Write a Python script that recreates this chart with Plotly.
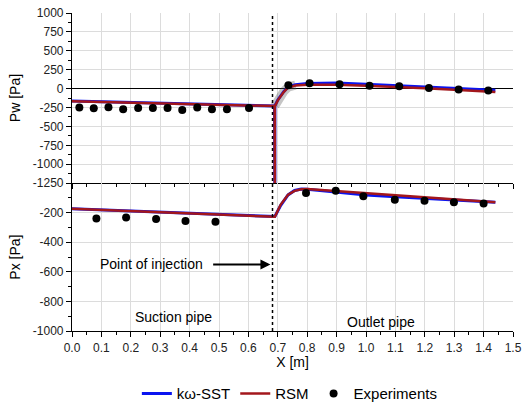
import plotly.graph_objects as go

# ---------- data ----------
# Wall pressure Pw (top panel)
pw_x = [0.0, 0.1, 0.2, 0.3, 0.4, 0.5, 0.6, 0.689, 0.69, 0.69, 0.70, 0.72, 0.735, 0.76, 0.8, 0.9, 1.0, 1.1, 1.2, 1.3, 1.44]
pw_sst = [-165, -174, -183, -192, -201, -210, -219, -229, -1450, -229, -150, -40, 22, 50, 66, 74, 58, 42, 22, 2, -20]
pw_rsm = [-168, -177, -186, -195, -204, -213, -222, -231, -1450, -231, -155, -45, 15, 40, 50, 50, 38, 24, 4, -16, -44]
pw_exp_x = [0.025, 0.074, 0.124, 0.174, 0.225, 0.275, 0.325, 0.375, 0.426, 0.476, 0.527, 0.602,
            0.736, 0.808, 0.91, 1.012, 1.113, 1.214, 1.315, 1.416]
pw_exp = [-250, -259, -246, -272, -255, -255, -255, -282, -250, -272, -272, -255,
          43, 70, 57, 39, 30, 8, -13, -26]
# grey spread of the simulations around the injection
spread_x = [0.69, 0.70, 0.72, 0.735, 0.76]
spread_y = [-229, -150, -40, 20, 45]

# Axial pressure Px (bottom panel)
px_x = [0.0, 0.1, 0.2, 0.3, 0.4, 0.5, 0.6, 0.68, 0.69, 0.71, 0.735, 0.757, 0.78, 0.8, 0.9, 1.0, 1.1, 1.2, 1.3, 1.44]
px_sst = [-173, -181, -189, -197, -206, -214, -222, -229, -226, -150, -80, -50, -40, -42, -62, -80, -92, -104, -116, -130]
px_rsm = [-174, -182, -190, -198, -207, -215, -223, -230, -227, -145, -78, -52, -42, -39, -53, -67, -82, -96, -110, -130]
px_exp_x = [0.083, 0.184, 0.286, 0.386, 0.488, 0.796, 0.897, 0.991, 1.098, 1.199, 1.299, 1.40]
px_exp = [-239, -232, -243, -256, -261, -66, -51, -89, -112, -119, -130, -137]

x_ticks = [round(0.1 * i, 1) for i in range(16)]
pw_ticks = [1000, 750, 500, 250, 0, -250, -500, -750, -1000, -1250]
px_ticks = [-200, -400, -600, -800, -1000]
injection_x = 0.682

SST_COLOR = "#0A14F0"
RSM_COLOR = "#A3171C"
FONT = "Liberation Sans, Arial, sans-serif"

fig = go.Figure()

# top panel
fig.add_trace(go.Scatter(x=spread_x, y=spread_y, mode="lines", line=dict(color="rgba(90,90,90,0.35)", width=9),
                         showlegend=False, hoverinfo="skip", xaxis="x", yaxis="y"))
fig.add_trace(go.Scatter(x=pw_x, y=pw_sst, mode="lines", line=dict(color=SST_COLOR, width=3),
                         name="kω-SST", xaxis="x", yaxis="y"))
fig.add_trace(go.Scatter(x=pw_x, y=pw_rsm, mode="lines", line=dict(color=RSM_COLOR, width=2.5),
                         name="RSM", xaxis="x", yaxis="y"))
fig.add_trace(go.Scatter(x=pw_exp_x, y=pw_exp, mode="markers", marker=dict(color="black", size=8),
                         name="Experiments", xaxis="x", yaxis="y"))
# bottom panel
fig.add_trace(go.Scatter(x=px_x, y=px_sst, mode="lines", line=dict(color=SST_COLOR, width=3),
                         showlegend=False, xaxis="x2", yaxis="y2"))
fig.add_trace(go.Scatter(x=px_x, y=px_rsm, mode="lines", line=dict(color=RSM_COLOR, width=2.5),
                         showlegend=False, xaxis="x2", yaxis="y2"))
fig.add_trace(go.Scatter(x=px_exp_x, y=px_exp, mode="markers", marker=dict(color="black", size=8),
                         showlegend=False, xaxis="x2", yaxis="y2"))

grid = "#DCDCDC"
tickfont = dict(family=FONT, size=12, color="#222")
common_x = dict(range=[0, 1.5], tickvals=x_ticks, showgrid=True, gridcolor=grid, gridwidth=1,
                showline=True, linecolor="black", linewidth=1.2, ticks="outside", ticklen=5,
                tickcolor="black", tickfont=tickfont, zeroline=False, automargin=False,
                minor=dict(dtick=0.05, tick0=0, ticks="outside", ticklen=3, tickcolor="black", showgrid=False))

TOP_DOM = [0.465, 1.0]
BOT_DOM = [0.0, 0.465]


def fmt(v):
    return str(v).replace("\u2212", "-")


fig.update_layout(
    width=529, height=406,
    margin=dict(l=72, r=16, t=13, b=75),
    paper_bgcolor="white", plot_bgcolor="white",
    font=dict(family=FONT, size=12, color="black"),
    xaxis=dict(common_x, anchor="y", showticklabels=False, domain=[0, 1]),
    xaxis2=dict(common_x, anchor="y2", domain=[0, 1], ticktext=[f"{v:.1f}" for v in x_ticks],
                title=dict(text="X [m]", font=dict(size=14, family=FONT), standoff=2)),
    xaxis3=dict(overlaying="x", matches="x", side="top", anchor="y", showticklabels=False,
                showgrid=False, ticks="inside", ticklen=5, tickcolor="black", tickvals=x_ticks,
                showline=True, linecolor="black", linewidth=1.2, zeroline=False, automargin=False,
                minor=dict(dtick=0.05, tick0=0, ticks="inside", ticklen=3, tickcolor="black")),
    yaxis=dict(domain=TOP_DOM, anchor="x", range=[-1250, 1000], tickvals=pw_ticks,
               ticktext=[fmt(v) for v in pw_ticks],
               showgrid=True, gridcolor=grid, showline=True, linecolor="black", linewidth=1.2,
               ticks="outside", ticklen=5, tickcolor="black", tickfont=tickfont, automargin=False,
               zeroline=True, zerolinecolor="black", zerolinewidth=1.2,
               minor=dict(dtick=125, tick0=0, ticks="outside", ticklen=3, tickcolor="black", showgrid=False),
               title=dict(text="Pw [Pa]", font=dict(size=14, family=FONT), standoff=8)),
    yaxis2=dict(domain=BOT_DOM, anchor="x2", range=[-1000, 0],
                tickvals=px_ticks, ticktext=[fmt(v) for v in px_ticks],
                showgrid=True, gridcolor=grid, showline=True, linecolor="black", linewidth=1.2,
                ticks="outside", ticklen=5, tickcolor="black", tickfont=tickfont, zeroline=False,
                automargin=False,
                minor=dict(dtick=100, tick0=0, ticks="outside", ticklen=3, tickcolor="black", showgrid=False),
                title=dict(text="Px [Pa]", font=dict(size=14, family=FONT), standoff=8)),
    yaxis3=dict(overlaying="y", matches="y", side="right", anchor="x", showticklabels=False,
                showgrid=False, ticks="inside", ticklen=5, tickcolor="black", tickvals=pw_ticks,
                showline=True, linecolor="black", linewidth=1.2, zeroline=False, automargin=False,
                minor=dict(dtick=125, tick0=0, ticks="inside", ticklen=3, tickcolor="black")),
    yaxis4=dict(overlaying="y2", matches="y2", side="right", anchor="x2", showticklabels=False,
                showgrid=False, ticks="inside", ticklen=5, tickcolor="black", tickvals=px_ticks,
                showline=True, linecolor="black", linewidth=1.2, zeroline=False, automargin=False,
                minor=dict(dtick=100, tick0=0, ticks="inside", ticklen=3, tickcolor="black")),
    legend=dict(orientation="h", x=0.494, xanchor="center", yref="container", y=0.03, yanchor="middle",
                font=dict(size=15, family=FONT), bgcolor="rgba(0,0,0,0)", itemwidth=30,
                tracegroupgap=0),
    showlegend=True,
)

# injection dashed line
fig.add_shape(type="line", xref="x", yref="paper", x0=injection_x, x1=injection_x, y0=0, y1=1,
              line=dict(color="black", width=1.5, dash="dot"))

# annotations
fig.add_annotation(x=0.675, y=-550, ax=0.475, ay=-550, xref="x2", yref="y2", axref="x2", ayref="y2",
                   text="", showarrow=True, arrowhead=2, arrowsize=1, arrowwidth=2, arrowcolor="black")
fig.add_annotation(x=0.27, y=-550, xref="x2", yref="y2", text="Point of injection", showarrow=False,
                   font=dict(size=14, family=FONT))
fig.add_annotation(x=0.345, y=-905, xref="x2", yref="y2", text="Suction pipe", showarrow=False,
                   font=dict(size=14, family=FONT))
fig.add_annotation(x=1.05, y=-940, xref="x2", yref="y2", text="Outlet pipe", showarrow=False,
                   font=dict(size=14, family=FONT))

# remove the default 8px page margin so the figure sits at the window origin
fig.write_html("out.html", config={"displayModeBar": False},
               post_script="document.body.style.margin='0';")
